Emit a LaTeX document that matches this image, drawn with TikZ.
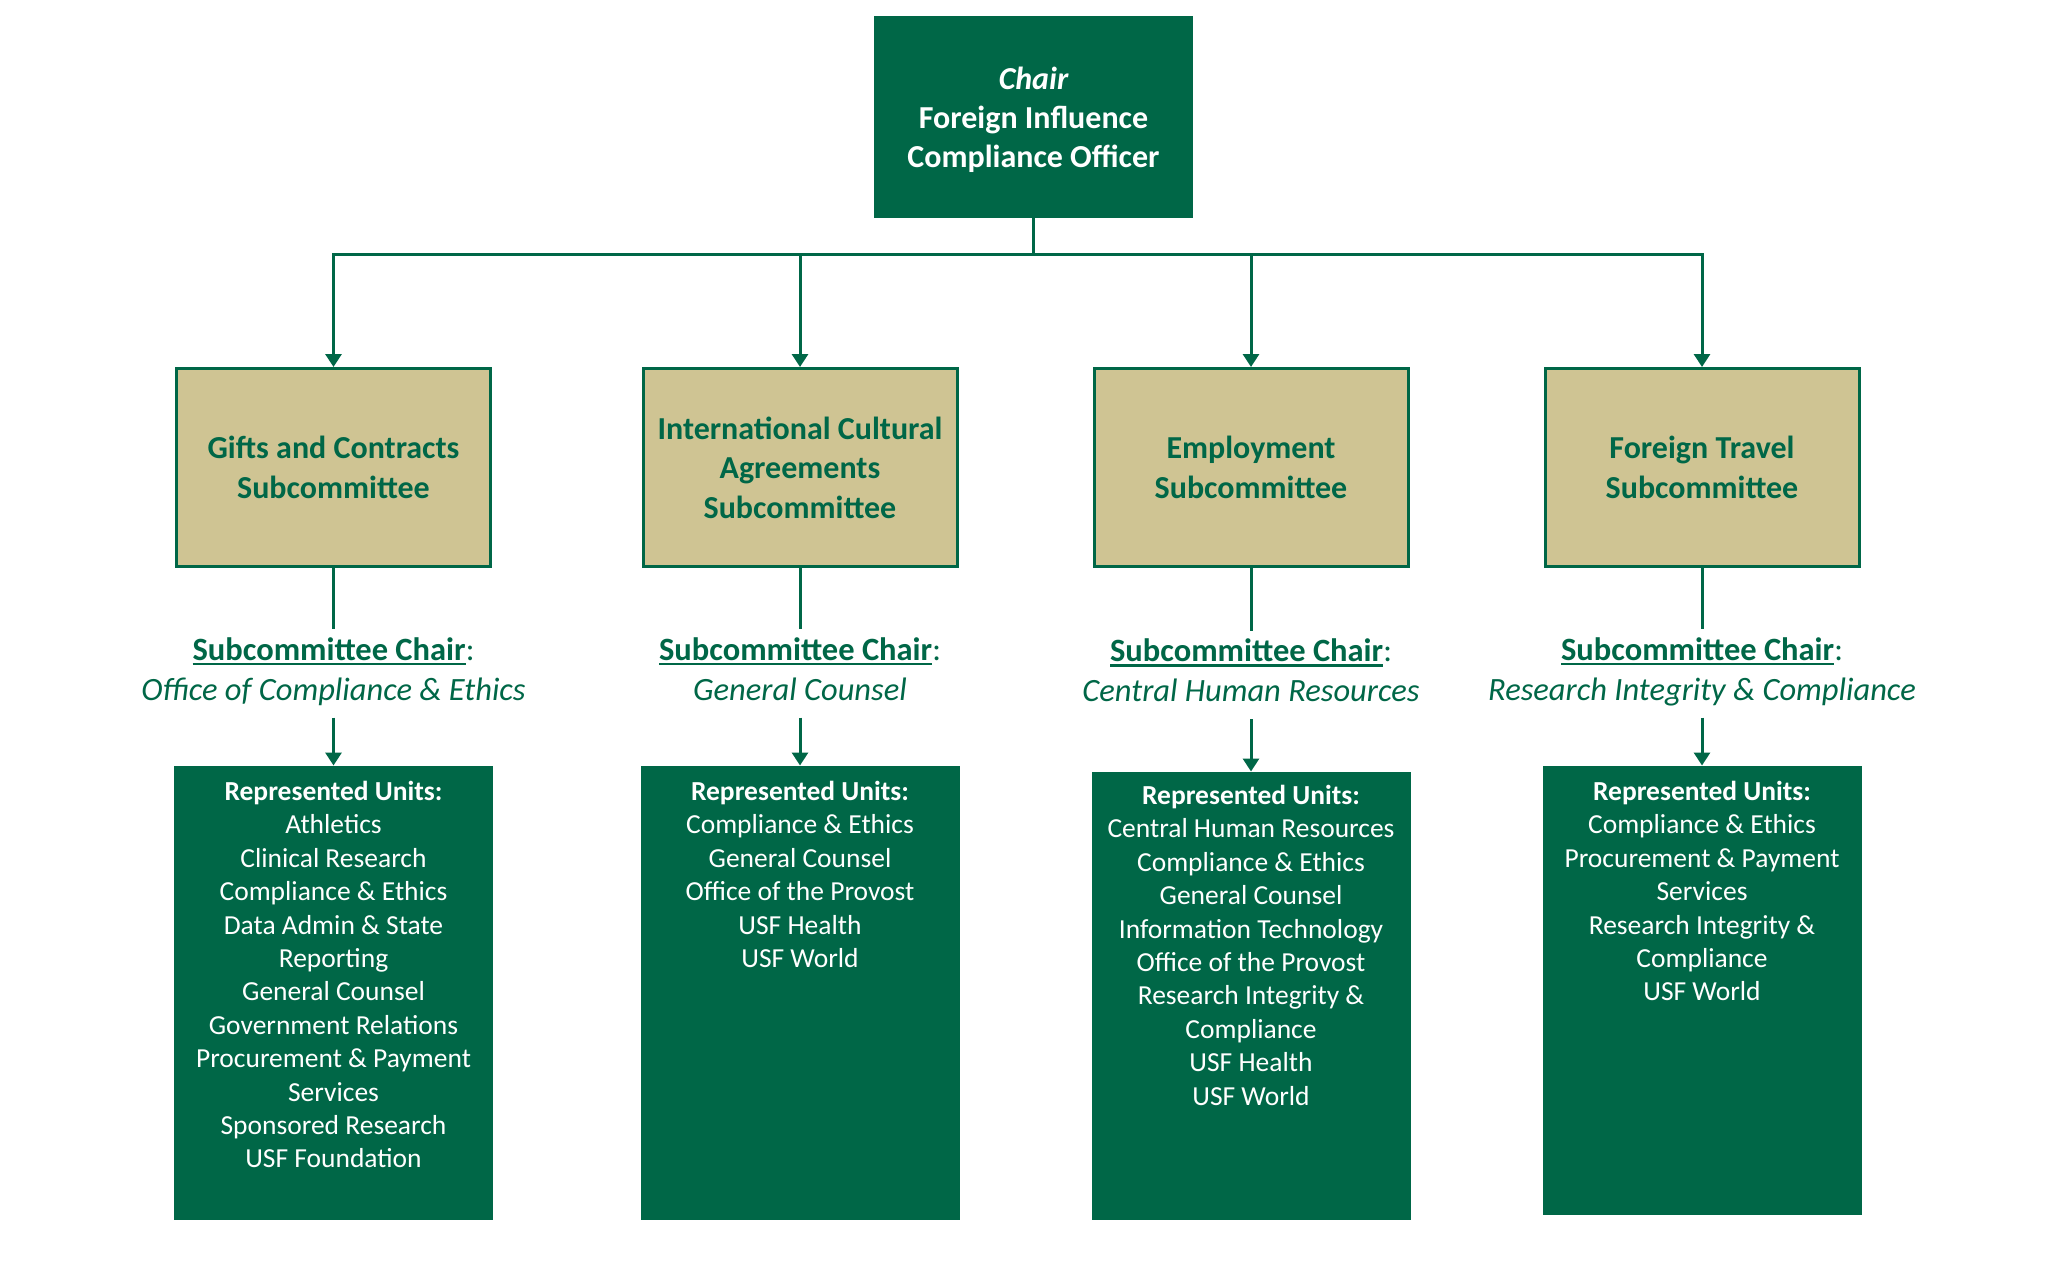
\documentclass[tikz,border=0pt]{standalone}
\usepackage{fontspec}
\setmainfont{Carlito}
\usetikzlibrary{arrows.meta}
\definecolor{usfgreen}{RGB}{0,103,71}
\definecolor{usftan}{RGB}{207,196,147}
\newcommand\myul[1]{\setbox0=\hbox{#1}\rlap{\rule[-5pt]{\wd0}{2.5pt}}\box0}
\newcommand\dstrut{\rule[-9pt]{0pt}{9pt}}
\newcommand\chairhead{{\bfseries\myul{Subcommittee Chair}}:}
\begin{document}
\begin{tikzpicture}[x=1pt,y=-1pt,
  topbox/.style={draw=usfgreen, fill=usfgreen, line width=1pt,
    minimum width=318pt, minimum height=201pt, inner sep=0pt},
  toptext/.style={text=white, font=\fontsize{32}{39}\selectfont\bfseries,
    align=center, inner sep=0pt},
  subbox/.style={draw=usfgreen, fill=usftan, line width=3pt, text=usfgreen,
    font=\fontsize{32}{39.5}\selectfont\bfseries, align=center,
    minimum width=314pt, minimum height=198pt, inner sep=0pt},
  unitbox/.style={draw=usfgreen, fill=usfgreen, line width=1pt,
    minimum width=318pt, inner sep=0pt},
  unittext/.style={text=white, font=\fontsize{27.5}{33.4}\selectfont,
    align=center, anchor=north, inner sep=0pt},
  chairlabel/.style={text=usfgreen, font=\fontsize{32.5}{40}\selectfont,
    align=center, inner sep=8pt},
  conn/.style={draw=usfgreen, line width=3pt},
  arr/.style={conn, -{Triangle[width=16pt,length=13pt]}}
]
\useasboundingbox (0,0) rectangle (2051,1270);
\fill[white] (0,0) rectangle (2051,1270);

% top box
\node[topbox] (top) at (1033.5,117) {};
\node[toptext] (toplabel) at (1033.5,120) {{\itshape Chair}\\Foreign Influence\\Compliance Officer};
\coordinate (bus) at (0,254);

% subcommittee boxes
\node[subbox] (s1) at (333.5,467.5) {Gifts and Contracts\\Subcommittee};
\node[subbox] (s2) at (800,467.5) {International Cultural\\Agreements\\Subcommittee};
\node[subbox] (s3) at (1251,467.5) {Employment\\Subcommittee};
\node[subbox] (s4) at (1702,467.5) {Foreign Travel\\Subcommittee};

% chair labels
\node[chairlabel] (c1) at (333.5,673.5) {\chairhead\\\itshape Office of Compliance \& Ethics\dstrut};
\node[chairlabel] (c2) at (800,673.5) {\chairhead\\\itshape General Counsel\dstrut};
\node[chairlabel] (c3) at (1251,675) {\chairhead\\\itshape Central Human Resources\dstrut};
\node[chairlabel] (c4) at (1702,673.5) {\chairhead\\\itshape Research Integrity \& Compliance\dstrut};

% represented units boxes
\node[unitbox, minimum height=453pt] (u1) at (333.5,992.5) {};
\node[unitbox, minimum height=453pt] (u2) at (800,992.5) {};
\node[unitbox, minimum height=447pt] (u3) at (1251,995.5) {};
\node[unitbox, minimum height=448pt] (u4) at (1702,990) {};

\node[unittext] (t1) at (333.5,781) {{\bfseries Represented Units:}\\Athletics\\Clinical Research\\Compliance \& Ethics\\Data Admin \& State\\Reporting\\General Counsel\\Government Relations\\Procurement \& Payment\\Services\\Sponsored Research\\USF Foundation};
\node[unittext] (t2) at (800,781) {{\bfseries Represented Units:}\\Compliance \& Ethics\\General Counsel\\Office of the Provost\\USF Health\\USF World};
\node[unittext] (t3) at (1251,785) {{\bfseries Represented Units:}\\Central Human Resources\\Compliance \& Ethics\\General Counsel\\Information Technology\\Office of the Provost\\Research Integrity \&\\Compliance\\USF Health\\USF World};
\node[unittext] (t4) at (1702,781) {{\bfseries Represented Units:}\\Compliance \& Ethics\\Procurement \& Payment\\Services\\Research Integrity \&\\Compliance\\USF World};

% connectors
\draw[conn] (top.south) -- (top.south |- bus);
\foreach \s in {s1,s2,s3,s4}{
  \draw[arr] (top.south |- bus) -| (\s.north);
}
\foreach \s/\c/\u in {s1/c1/u1,s2/c2/u2,s3/c3/u3,s4/c4/u4}{
  \draw[conn] (\s.south) -- (\c.north);
  \draw[arr] (\c.south) -- (\u.north);
}
\end{tikzpicture}
\end{document}
